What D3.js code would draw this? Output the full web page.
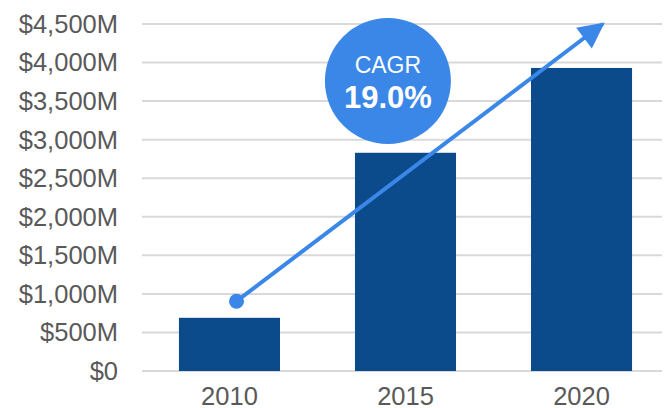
<!DOCTYPE html>
<html>
<head>
<meta charset="utf-8">
<script src="https://cdn.jsdelivr.net/npm/d3@7"></script>
<style>
  body { margin: 0; background: #fff; }
  svg { display: block; font-family: "Liberation Sans", Arial, sans-serif; }
</style>
</head>
<body>
<svg id="chart"></svg>
<script>
// data
var years = ["2010", "2015", "2020"];
var revenue = [690, 2830, 3930];           // $M
var yTicks = [0, 500, 1000, 1500, 2000, 2500, 3000, 3500, 4000, 4500];
var cagrLabel = "CAGR";
var cagrValue = "19.0%";
// arrow: band index / value in $M
var arrowFrom = [0.04, 905];
var arrowTo = [2.12, 4500];
var bubbleAt = [0.9, 3760];

var width = 664, height = 408;
var svg = d3.select("#chart").attr("width", width).attr("height", height);

var y = d3.scaleLinear().domain([0, 4500]).range([371, 24]);
var x = d3.scaleBand().domain(years).range([145.5, 665.5])
    .paddingInner(0.426).paddingOuter(0.19);
// continuous version of the band scale, index -> centre
var xi = d3.scaleLinear().domain([0, 1])
    .range([x(years[0]) + x.bandwidth() / 2, x(years[1]) + x.bandwidth() / 2]);

function fmt(v) {
    return v === 0 ? "$0" : "$" + d3.format(",")(v) + "M";
}

// gridlines
svg.append("g").selectAll("line")
    .data(yTicks)
    .enter().append("line")
    .attr("x1", 142).attr("x2", 662)
    .attr("y1", function (d) { return y(d) })
    .attr("y2", function (d) { return y(d) })
    .attr("stroke", "#d9d9d9")
    .attr("stroke-width", 2);

// y labels
svg.append("g").selectAll("text")
    .data(yTicks)
    .enter().append("text")
    .attr("x", 118)
    .attr("y", function (d) { return y(d) })
    .attr("dy", "0.35em")
    .attr("text-anchor", "end")
    .attr("font-size", 25.5)
    .attr("fill", "#595959")
    .text(fmt);

// bars
svg.append("g").selectAll("rect")
    .data(revenue)
    .enter().append("rect")
    .attr("x", function (d, i) { return x(years[i]) })
    .attr("width", x.bandwidth())
    .attr("y", function (d) { return y(d) })
    .attr("height", function (d) { return y(0) - y(d) })
    .attr("fill", "#0b4a8b");

// x labels
svg.append("g").selectAll("text")
    .data(years)
    .enter().append("text")
    .attr("x", function (d) { return x(d) + x.bandwidth() / 2 })
    .attr("y", 405)
    .attr("text-anchor", "middle")
    .attr("font-size", 25.5)
    .attr("fill", "#595959")
    .text(function (d) { return d });

// CAGR bubble
var blue = "#3a87e8";
var bx = xi(bubbleAt[0]), by = y(bubbleAt[1]);
svg.append("circle")
    .attr("cx", bx).attr("cy", by).attr("r", 63)
    .attr("fill", blue);
svg.append("text")
    .attr("x", bx).attr("y", by - 8)
    .attr("text-anchor", "middle")
    .attr("font-size", 23)
    .attr("fill", "#fff")
    .text(cagrLabel);
svg.append("text")
    .attr("x", bx).attr("y", by + 27)
    .attr("text-anchor", "middle")
    .attr("font-size", 31)
    .attr("font-weight", "bold")
    .attr("fill", "#fff")
    .text(cagrValue);

// arrow
svg.append("defs").append("marker")
    .attr("id", "head")
    .attr("viewBox", "0 0 10 10")
    .attr("refX", 9).attr("refY", 5)
    .attr("markerWidth", 7).attr("markerHeight", 6.5)
    .attr("markerUnits", "strokeWidth")
    .attr("orient", "auto")
    .append("path")
    .attr("d", "M0,0L10,5L0,10Z")
    .attr("fill", blue);

var x1 = xi(arrowFrom[0]), y1 = y(arrowFrom[1]);
var x2 = xi(arrowTo[0]), y2 = y(arrowTo[1]);
svg.append("line")
    .attr("x1", x1).attr("y1", y1)
    .attr("x2", x2).attr("y2", y2)
    .attr("stroke", blue)
    .attr("stroke-width", 4)
    .attr("marker-end", "url(#head)");
svg.append("circle")
    .attr("cx", x1).attr("cy", y1).attr("r", 7.5)
    .attr("fill", blue);
</script>
</body>
</html>
